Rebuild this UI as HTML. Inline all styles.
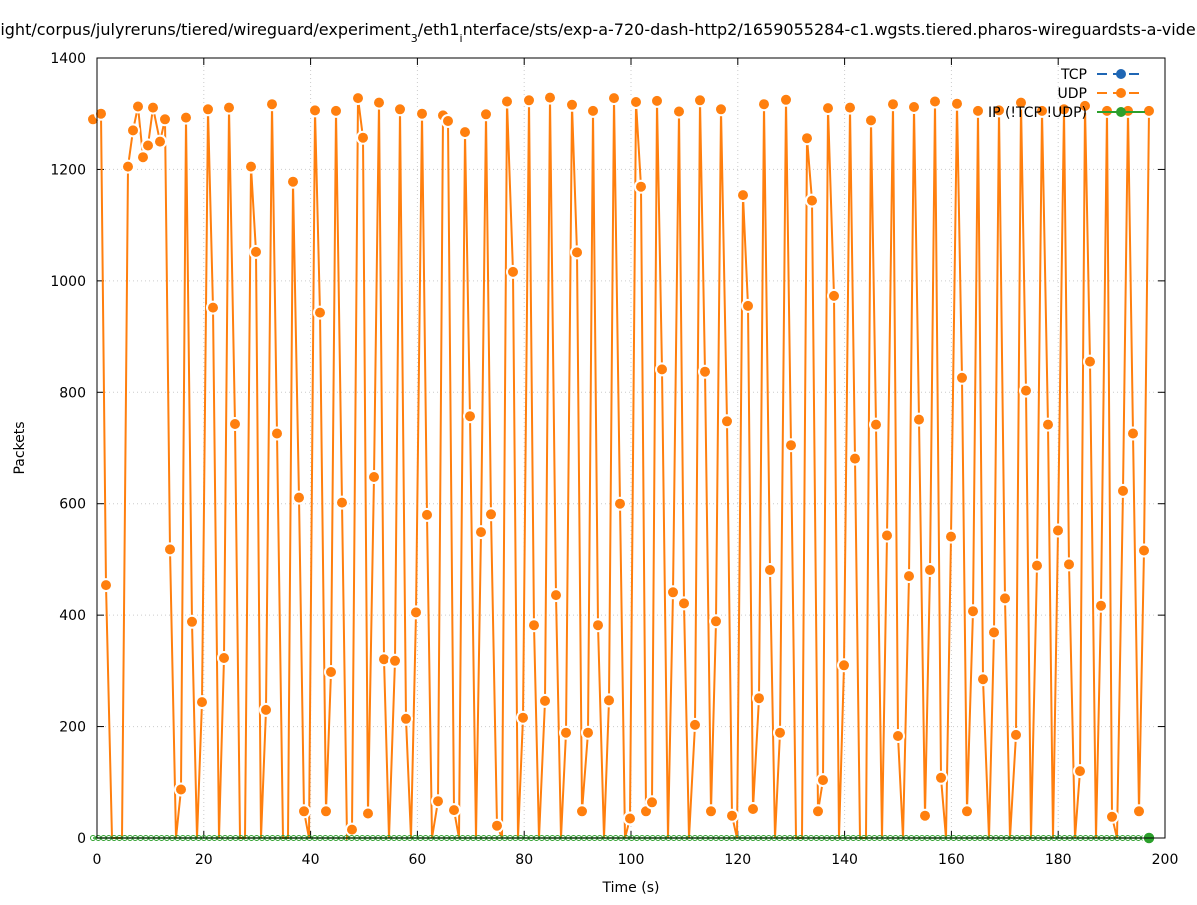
<!DOCTYPE html>
<html><head><meta charset="utf-8"><style>
body{margin:0;background:#fff;font-family:"Liberation Sans","DejaVu Sans",sans-serif}
svg text{font-family:"DejaVu Sans","Liberation Sans",sans-serif;font-size:14px;fill:#000}
</style></head><body>
<svg id="s" width="1197" height="900" xmlns="http://www.w3.org/2000/svg">
<rect width="1197" height="900" fill="#fff"/>
<g id="grid" stroke="#ccc" stroke-dasharray="1,3" stroke-width="1"></g>
<g id="ax"></g>
<polyline id="udp" fill="none" stroke="#ff7f0e" stroke-width="2"/>
<g id="mk"></g>
<g id="gr"></g>
<rect x="97" y="58" width="1068" height="780" fill="none" stroke="#000" stroke-width="1"/>
<text x="598" y="35" text-anchor="middle" style="font-size:16px">ight/corpus/julyreruns/tiered/wireguard/experiment<tspan baseline-shift="sub" font-size="11">3</tspan>/eth1<tspan baseline-shift="sub" font-size="11">i</tspan>nterface/sts/exp-a-720-dash-http2/1659055284-c1.wgsts.tiered.pharos-wireguardsts-a-vide</text>
<text x="631" y="892" text-anchor="middle">Time (s)</text>
<text transform="translate(24,448) rotate(-90)" text-anchor="middle">Packets</text>
<text x="1087" y="79" text-anchor="end">TCP</text>
<line x1="1097" y1="74" x2="1145" y2="74" stroke="#1f66b4" stroke-width="2" stroke-dasharray="10,6"/>
<circle cx="1121" cy="74" r="5" fill="#1f66b4"/>
<text x="1087" y="98" text-anchor="end">UDP</text>
<line x1="1097" y1="93" x2="1145" y2="93" stroke="#ff7f0e" stroke-width="2" stroke-dasharray="10,6"/>
<circle cx="1121" cy="93" r="5" fill="#ff7f0e"/>
<text x="1087" y="117" text-anchor="end">IP (!TCP !UDP)</text>
<line x1="1097" y1="112" x2="1145" y2="112" stroke="#2ca02c" stroke-width="2"/>
<circle cx="1121" cy="112" r="5" fill="#2ca02c"/>
</svg>
<script>
var d=[93,1290,101,1300,106,454,112,0,122,0,128,1205,133,1270,138,1313,143,1222,148,1243,153,1311,160,1250,165,1290,170,518,176,0,181,87,186,1293,192,388,197,0,202,244,208,1308,213,952,219,0,224,323,229,1311,235,743,240,0,245,0,251,1205,256,1052,261,0,266,230,272,1317,277,726,283,0,288,0,293,1178,299,611,304,48,309,0,315,1306,320,943,326,48,331,298,336,1305,342,602,347,0,352,15,358,1328,363,1257,368,44,374,648,379,1320,384,321,389,0,395,318,400,1308,406,214,411,0,416,405,422,1300,427,580,432,0,438,66,443,1297,448,1287,454,50,459,0,465,1267,470,757,476,0,481,549,486,1299,491,581,497,22,502,0,507,1322,513,1016,518,0,523,216,529,1324,534,382,539,0,545,246,550,1329,556,436,561,0,566,189,572,1316,577,1051,582,48,588,189,593,1305,598,382,604,0,609,247,614,1328,620,600,625,0,630,35,636,1321,641,1169,646,48,652,64,657,1323,662,841,668,0,673,441,679,1304,684,421,689,0,695,203,700,1324,705,837,711,48,716,389,721,1308,727,748,732,40,737,0,743,1154,748,955,753,52,759,251,764,1317,770,481,775,0,780,189,786,1325,791,705,796,0,802,0,807,1256,812,1144,818,48,823,104,828,1310,834,973,839,0,844,310,850,1311,855,681,860,0,866,0,871,1288,876,742,882,0,887,543,893,1317,898,183,903,0,909,470,914,1312,919,751,925,40,930,481,935,1322,941,108,946,0,951,541,957,1318,962,826,967,48,973,407,978,1305,983,285,989,0,994,369,999,1306,1005,430,1010,0,1016,185,1021,1320,1026,803,1031,0,1037,489,1042,1305,1048,742,1053,0,1058,552,1064,1308,1069,491,1075,0,1080,120,1085,1314,1090,855,1096,0,1101,417,1107,1305,1112,38,1117,0,1123,623,1128,1305,1133,726,1139,48,1144,516,1149,1305];
var NS="http://www.w3.org/2000/svg";
function el(t,a,p){var e=document.createElementNS(NS,t);for(var k in a)e.setAttribute(k,a[k]);p.appendChild(e);return e;}
var Y=function(v){return 838-v*0.55714;};
var pts=[],mk=document.getElementById('mk');
for(var i=0;i<d.length;i+=2){var x=d[i],y=Y(d[i+1]);pts.push(x+','+y.toFixed(1));
 if(d[i+1]>0) el('circle',{cx:x,cy:y.toFixed(1),r:6,fill:'#ff7f0e',stroke:'#fff','stroke-width':2},mk);}
document.getElementById('udp').setAttribute('points',pts.join(' '));
var g=document.getElementById('grid'),ax=document.getElementById('ax');
for(var t=0;t<=200;t+=20){var x=97+t*5.34;
 if(t>0&&t<200) el('line',{x1:x,y1:58,x2:x,y2:838},g);
 el('line',{x1:x,y1:838,x2:x,y2:831,stroke:'#000'},ax);el('line',{x1:x,y1:58,x2:x,y2:65,stroke:'#000'},ax);
 var tx=el('text',{x:x,y:864,'text-anchor':'middle'},ax);tx.textContent=t;}
for(var v=0;v<=1400;v+=200){var y=Y(v);
 if(v>0&&v<1400) el('line',{x1:97,y1:y,x2:1165,y2:y},g);
 el('line',{x1:97,y1:y,x2:104,y2:y,stroke:'#000'},ax);el('line',{x1:1165,y1:y,x2:1158,y2:y,stroke:'#000'},ax);
 var tx=el('text',{x:86,y:y+5,'text-anchor':'end'},ax);tx.textContent=v;}
var gr=document.getElementById('gr');
el('line',{x1:93,y1:838,x2:1149,y2:838,stroke:'#2ca02c','stroke-width':1.5},gr);
for(var x=93;x<1149;x+=5.28) el('circle',{cx:x.toFixed(1),cy:838,r:2.5,fill:'none',stroke:'#2ca02c','stroke-width':1},gr);
el('circle',{cx:1149,cy:838,r:6,fill:'#2ca02c',stroke:'#fff','stroke-width':1.5},gr);
</script>
</body></html>
